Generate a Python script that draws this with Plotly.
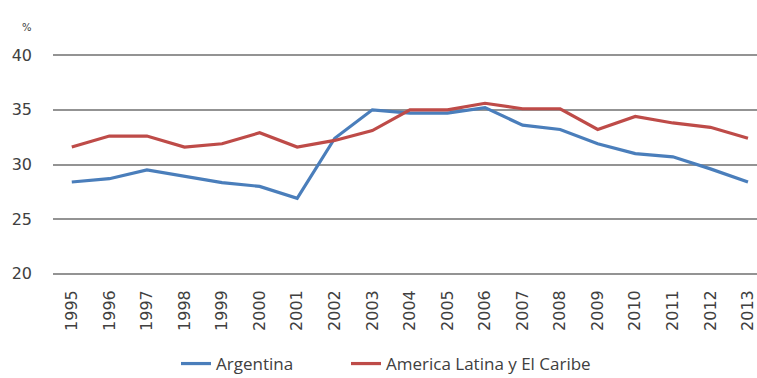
import plotly.graph_objects as go

years = [str(y) for y in range(1995, 2014)]
argentina = [28.4, 28.7, 29.5, 28.9, 28.35, 28.0, 26.9, 32.4, 35.0, 34.7,
             34.7, 35.2, 33.6, 33.2, 31.9, 31.0, 30.7, 29.6, 28.4]
america_latina = [31.6, 32.6, 32.6, 31.6, 31.9, 32.9, 31.6, 32.2, 33.1, 35.0,
                  35.0, 35.6, 35.1, 35.1, 33.2, 34.4, 33.8, 33.4, 32.4]
y_ticks = [20, 25, 30, 35, 40]

text_color = "#404040"
tick_font = "DejaVu Sans, sans-serif"
legend_font = "Open Sans, sans-serif"

# plot area in pixels
L, T, W, H = 53, 53, 704, 223


def px_x(x):
    return (x - L) / W


def px_y(y):
    return 1 - (y - T) / H


legend_style = dict(orientation="h", xanchor="left", yanchor="middle",
                    font=dict(family=legend_font, size=17, color=text_color),
                    bgcolor="rgba(0,0,0,0)", borderwidth=0)

fig = go.Figure()
fig.add_trace(go.Scatter(x=years, y=argentina, mode="lines", name="Argentina",
                         line=dict(color="#4A7EBB", width=3.2), legend="legend"))
fig.add_trace(go.Scatter(x=years, y=america_latina, mode="lines",
                         name="America Latina y El Caribe",
                         line=dict(color="#BE4B48", width=3.2), legend="legend2"))

fig.update_layout(
    width=757, height=378,
    margin=dict(l=L, r=757 - L - W, t=T, b=378 - T - H, autoexpand=False),
    paper_bgcolor="white", plot_bgcolor="white",
    font=dict(family=tick_font, color=text_color),
    showlegend=True,
    legend=dict(x=px_x(176), y=px_y(364), **legend_style),
    legend2=dict(x=px_x(346), y=px_y(364), **legend_style),
    xaxis=dict(type="category", range=[-0.5, 18.24], showgrid=False,
               tickangle=-90, tickfont=dict(size=16, color=text_color),
               ticks="", ticklabelstandoff=10, showline=False, zeroline=False,
               automargin=False),
    yaxis=dict(range=[19.8, 40.2], tickvals=y_ticks, showgrid=True,
               gridcolor="#939393", gridwidth=2, zeroline=False, showline=False,
               tickfont=dict(size=16, color=text_color), ticks="",
               ticklabelstandoff=20, automargin=False),
    annotations=[dict(text="%", xref="paper", yref="paper",
                      x=px_x(20), y=px_y(20),
                      showarrow=False, font=dict(size=10, color=text_color))],
)

fig.write_html("out.html")
